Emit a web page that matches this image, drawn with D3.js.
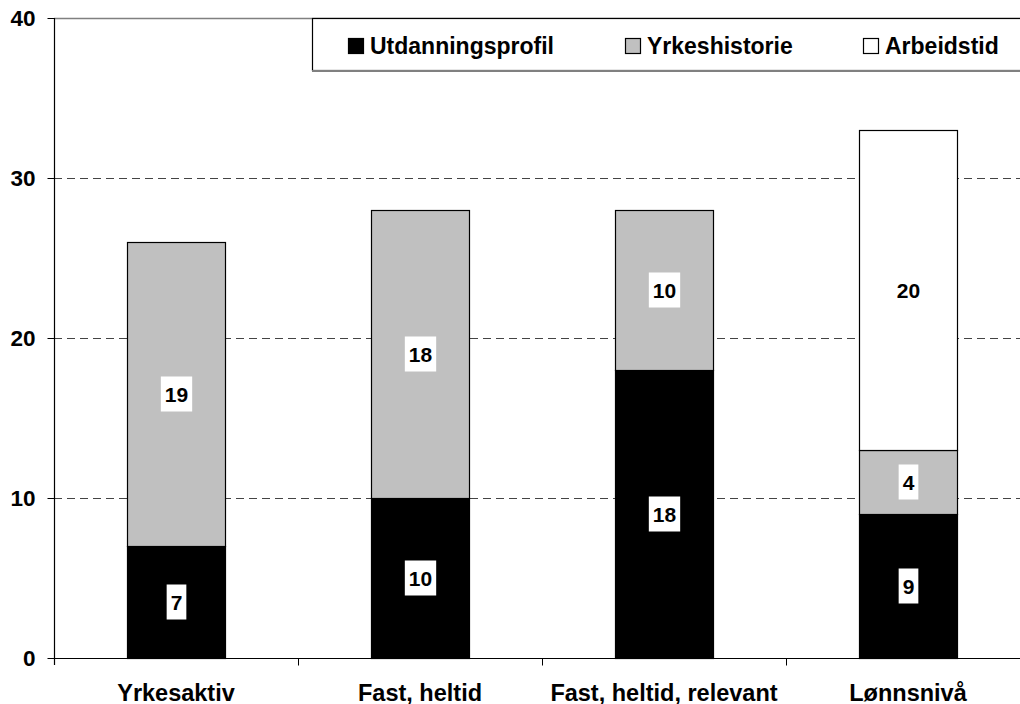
<!DOCTYPE html>
<html><head><meta charset="utf-8">
<script src="https://cdn.jsdelivr.net/npm/d3@7"></script>
<style>body{margin:0;background:#fff;}svg{display:block;font-family:"Liberation Sans",Arial,sans-serif;font-weight:bold;}</style>
</head><body>
<svg id="c" width="1020" height="704"></svg>
<script>
const categories = ["Yrkesaktiv", "Fast, heltid", "Fast, heltid, relevant", "Lønnsnivå"];
const seriesNames = ["Utdanningsprofil", "Yrkeshistorie", "Arbeidstid"];
const utdanningsprofil = [7, 10, 18, 9];
const yrkeshistorie = [19, 18, 10, 4];
const arbeidstid = [0, 0, 0, 20];
const yTicks = [0, 10, 20, 30, 40];
const colors = ["#000000", "#c0c0c0", "#ffffff"];

(function() {
const svg = d3.select("#c");
const mLeft = 54, mTop = 18, mBottom = 658, bandW = 244;
const x = d3.scaleBand().domain(categories).range([mLeft, mLeft + bandW * categories.length]).paddingInner(0).paddingOuter(0);
const y = d3.scaleLinear().domain([0, 40]).range([mBottom, mTop]);
const barW = 98;

// gridlines
svg.append("g").selectAll("line").data(yTicks.filter(t => t > 0 && t < 40)).join("line")
  .attr("x1", mLeft).attr("x2", 1020).attr("y1", d => y(d) + 0.5).attr("y2", d => y(d) + 0.5)
  .attr("stroke", "#444").attr("stroke-width", 1).attr("stroke-dasharray", "8,5");
svg.append("line").attr("x1", mLeft).attr("x2", 1020).attr("y1", y(40) + 0.5).attr("y2", y(40) + 0.5)
  .attr("stroke", "#808080").attr("stroke-width", 1.5);

// stacked data
const rows = categories.map((c, i) => ({cat: c, Utdanningsprofil: utdanningsprofil[i], Yrkeshistorie: yrkeshistorie[i], Arbeidstid: arbeidstid[i]}));
const stacked = d3.stack().keys(seriesNames)(rows);

const segs = [];
stacked.forEach((s, si) => s.forEach(d => { if (d[1] - d[0] > 0) segs.push({si, y0: d[0], y1: d[1], cat: d.data.cat, v: d[1] - d[0]}); }));

svg.append("g").selectAll("rect").data(segs).join("rect")
  .attr("x", d => x(d.cat) + x.bandwidth() / 2 - barW / 2 + 0.5)
  .attr("width", barW)
  .attr("y", d => y(d.y1) + 0.5)
  .attr("height", d => y(d.y0) - y(d.y1))
  .attr("fill", d => colors[d.si]).attr("stroke", "#000").attr("stroke-width", 1.2);

// labels
const lg = svg.append("g").selectAll("g").data(segs).join("g")
  .attr("transform", d => `translate(${x(d.cat) + x.bandwidth() / 2 + 0.5},${y((d.y0 + d.y1) / 2)})`);
lg.each(function(d) {
  const g = d3.select(this);
  const t = g.append("text").text(d.v).attr("text-anchor", "middle").attr("dy", "0.36em")
    .attr("font-size", 21).attr("fill", "#000");
  const w = t.node().getComputedTextLength();
  g.insert("rect", "text").attr("x", -w / 2 - 4).attr("y", -17.5).attr("width", w + 8).attr("height", 35).attr("fill", "#fff");
});

// axes
const yAxis = svg.append("g").attr("transform", `translate(${mLeft + 0.5},0)`)
  .call(d3.axisLeft(y).tickValues(yTicks).tickSize(7).tickPadding(12));
yAxis.select(".domain").attr("d", `M0,${mTop}V${mBottom + 7}`).attr("stroke", "#000").attr("stroke-width", 1.2);
yAxis.selectAll(".tick line").attr("stroke", "#000");
yAxis.selectAll("text").attr("font-size", 22.5).attr("font-family", "Liberation Sans, Arial, sans-serif").attr("font-weight", "bold").attr("fill", "#000");

const xb = svg.append("g").attr("transform", `translate(0,${mBottom + 0.5})`);
xb.append("line").attr("x1", mLeft).attr("x2", 1020).attr("y1", 0).attr("y2", 0).attr("stroke", "#000").attr("stroke-width", 1.2);
xb.selectAll("line.tk").data(categories.slice(1)).join("line").attr("class", "tk")
  .attr("x1", d => x(d) + 0.5).attr("x2", d => x(d) + 0.5).attr("y1", 0).attr("y2", 7).attr("stroke", "#000");
xb.selectAll("text").data(categories).join("text")
  .attr("x", d => x(d) + x.bandwidth() / 2).attr("y", 42).attr("text-anchor", "middle")
  .attr("font-size", 23.5).attr("fill", "#000").text(d => d);

// legend
const leg = svg.append("g");
leg.append("rect").attr("x", 312.5).attr("y", 18.5).attr("width", 760).attr("height", 52).attr("fill", "#fff").attr("stroke", "#000").attr("stroke-width", 1.2);
leg.append("line").attr("x1", 312).attr("x2", 1020).attr("y1", 71).attr("y2", 71).attr("stroke", "#808080").attr("stroke-width", 2);
const legX = [348, 625, 863];
seriesNames.forEach((n, i) => {
  leg.append("rect").attr("x", legX[i] + 0.5).attr("y", 38.5).attr("width", 15).attr("height", 15)
    .attr("fill", colors[i]).attr("stroke", "#000").attr("stroke-width", 1.2);
  leg.append("text").attr("x", legX[i] + 22).attr("y", 54).attr("font-size", 23).attr("fill", "#000").text(n);
});
})();
</script>
</body></html>
